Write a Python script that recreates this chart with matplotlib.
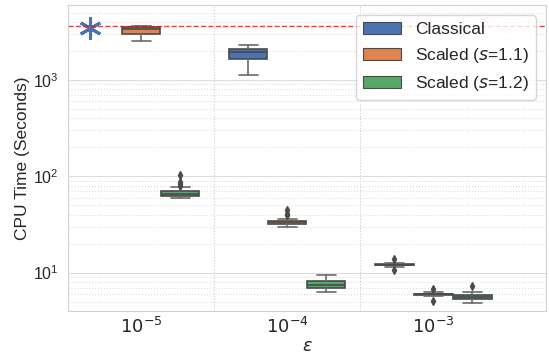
import matplotlib
matplotlib.use("Agg")
import matplotlib.pyplot as plt
import matplotlib.patches as mpatches
import seaborn as sns
import numpy as np

# epsilon categories and series
eps_labels = [r"$10^{-5}$", r"$10^{-4}$", r"$10^{-3}$"]
series = ["Classical", r"Scaled ($s$=1.1)", r"Scaled ($s$=1.2)"]
colors = ["#4C72B0", "#DD8452", "#55A868"]
time_limit = 3600

# box stats per (series, eps); None = did not finish within the time limit
classical_stats = [
    None,
    dict(whislo=1120, q1=1644, med=1944, q3=2090, whishi=2317, fliers=[]),
    dict(whislo=11.55, q1=11.95, med=12.1, q3=12.25, whishi=12.7, fliers=[10.7, 14.0]),
]
scaled11_stats = [
    dict(whislo=2530, q1=3030, med=3380, q3=3520, whishi=3600, fliers=[]),
    dict(whislo=29.9, q1=31.8, med=33.2, q3=34.2, whishi=36.2, fliers=[39.2, 40.8, 45.0]),
    dict(whislo=5.66, q1=5.93, med=6.0, q3=6.07, whishi=6.34, fliers=[5.1, 6.76]),
]
scaled12_stats = [
    dict(whislo=60.0, q1=62.4, med=65.8, q3=69.8, whishi=76.8, fliers=[79.6, 82.6, 86.6, 103]),
    dict(whislo=6.3, q1=6.93, med=7.5, q3=8.2, whishi=9.46, fliers=[]),
    dict(whislo=4.87, q1=5.27, med=5.53, q3=5.9, whishi=6.24, fliers=[7.33]),
]
all_stats = [classical_stats, scaled11_stats, scaled12_stats]

sns.set_style("whitegrid")
plt.rcParams["font.family"] = ["Liberation Sans", "DejaVu Sans"]

fig = plt.figure(figsize=(5.49, 3.54), dpi=100)
ax = fig.add_axes([0.124, 0.1215, 0.8705, 0.8645])

width = 0.8 / 3
line_col = "#4a4a4a"
whisk_col = "#6a6a6a"
for k, (stats, col) in enumerate(zip(all_stats, colors)):
    for i, st in enumerate(stats):
        if st is None:
            continue
        pos = i + (k - 1) * width
        ax.bxp([st], positions=[pos], widths=width * 0.98, patch_artist=True,
               boxprops=dict(facecolor=col, edgecolor=line_col, linewidth=1.2),
               medianprops=dict(color=line_col, linewidth=1.2),
               whiskerprops=dict(color=whisk_col, linewidth=1.2),
               capprops=dict(color=whisk_col, linewidth=1.2),
               flierprops=dict(marker="d", markersize=4, markerfacecolor=line_col,
                               markeredgecolor=line_col),
               manage_ticks=False)

# classical at 1e-5 hit the time limit
ax.plot([-0.35], [time_limit * 0.95], marker=(6, 2, 0), markersize=16,
        markeredgewidth=2.2, color=colors[0], linestyle="none")
ax.axhline(time_limit, color="red", linestyle="--", linewidth=1, alpha=0.8)

ax.set_yscale("log")
ax.set_ylim(4, 6000)
ax.set_xlim(-0.5, 2.77)
ax.set_xticks(range(len(eps_labels)))
ax.set_xticklabels(eps_labels, fontsize=13)
ax.set_xticks([0.5, 1.5], minor=True)
ax.tick_params(axis="y", labelsize=11.5)
ax.tick_params(axis="x", which="major", pad=1)
ax.tick_params(axis="x", which="minor", length=0)

ax.xaxis.grid(False, which="major")
ax.xaxis.grid(True, which="minor", linestyle=":", color="#cccccc")
ax.yaxis.grid(True, which="major", color="#dddddd")
ax.yaxis.grid(True, which="minor", linestyle=":", color="#dddddd")
for s in ax.spines.values():
    s.set_color("#d0d0d0")

ax.set_xlabel(r"$\varepsilon$", fontsize=12.5)
ax.xaxis.set_label_coords(0.5, -0.093)
ax.set_ylabel("CPU Time (Seconds)", fontsize=12.5, labelpad=2)

handles = [mpatches.Patch(facecolor=c, edgecolor=line_col, linewidth=0.8) for c in colors]
ax.legend(handles, series, loc="upper right", fontsize=12.5, frameon=True,
          handlelength=2.2, borderaxespad=0.6)

fig.savefig("out.png", dpi=100)
